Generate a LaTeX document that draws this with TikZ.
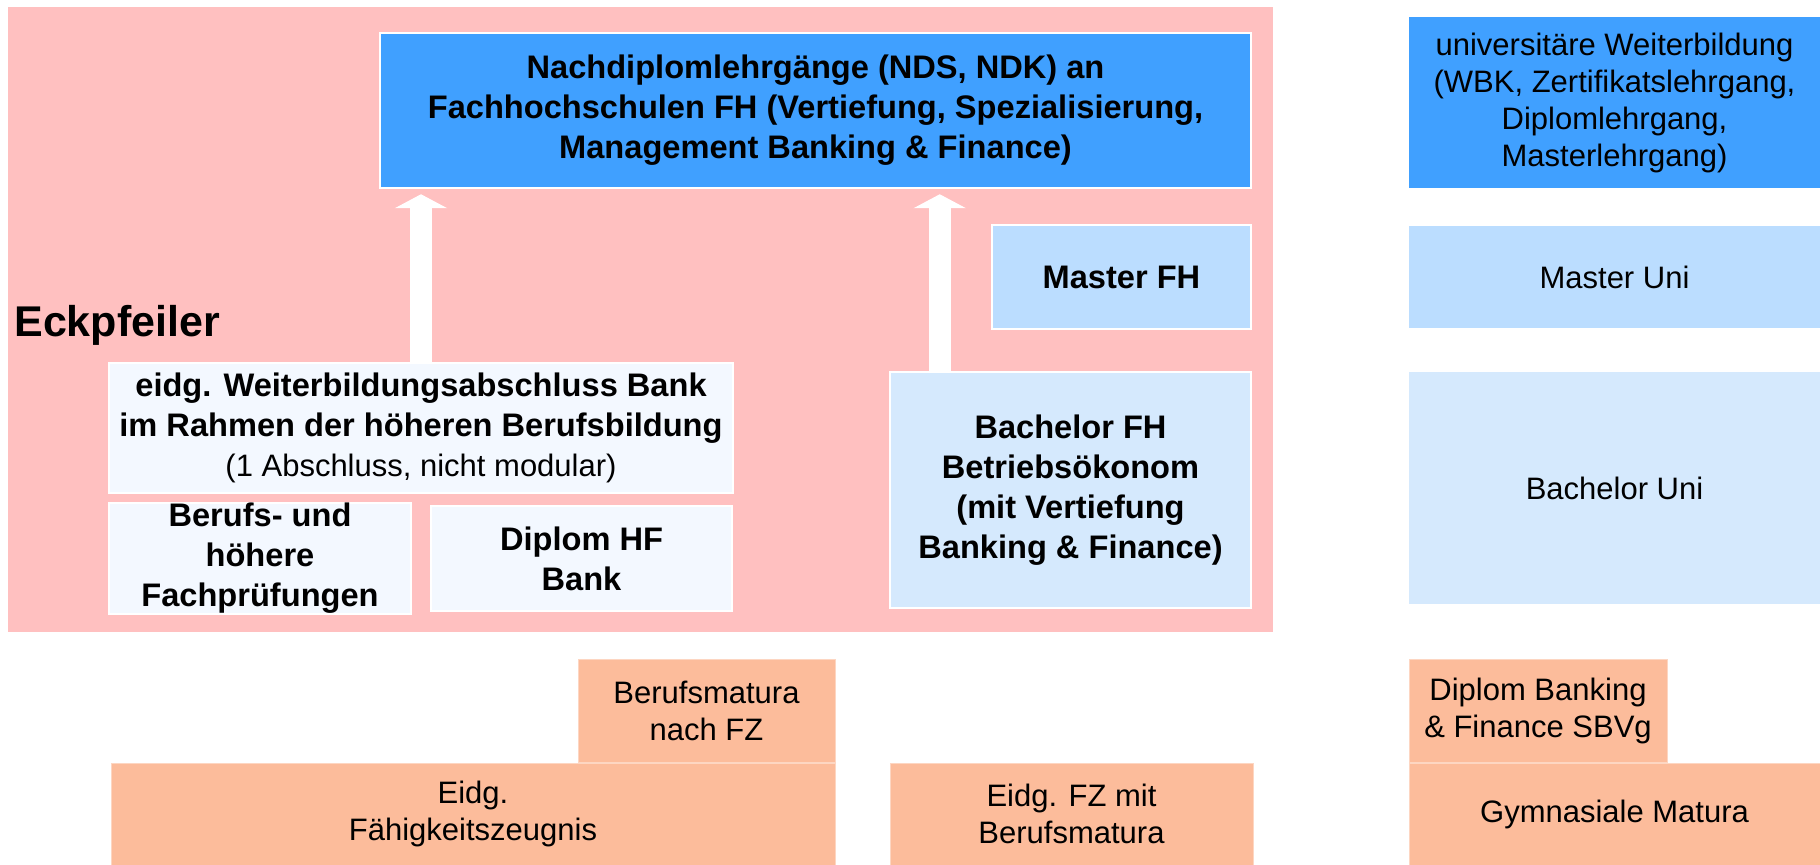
\documentclass[tikz,border=0pt]{standalone}
\usepackage{fontspec}
\setmainfont{Liberation Sans}
\usetikzlibrary{arrows.meta}
\definecolor{eckpink}{RGB}{255,192,192}
\definecolor{ndsblue}{RGB}{64,160,255}
\definecolor{masterblue}{RGB}{187,221,255}
\definecolor{bachblue}{RGB}{213,233,253}
\definecolor{paleblue}{RGB}{243,248,255}
\definecolor{maturaorange}{RGB}{252,188,155}
\definecolor{maturaline}{RGB}{253,214,194}
\begin{document}
\begin{tikzpicture}[x=0.5pt,y=-0.5pt,
		box/.style={rectangle,inner sep=0pt,align=center},
		inbox/.style={box,draw=white,line width=1.25pt,font=\fontsize{16.3}{20}\selectfont\bfseries},
		outbox/.style={box,font=\fontsize{15.5}{18.5}\selectfont},
		matbox/.style={outbox,fill=maturaorange,draw=maturaline,line width=0.5pt},
		uparrow/.style={draw=white,line width=11pt,shorten >=2.5pt,-{Triangle[width=26pt,length=7pt]}}]
			\useasboundingbox (0,0) rectangle (1820,865);
			\fill [eckpink] (8,7) rectangle (1273,632);
			\node [box,anchor=west,font=\fontsize{21.5}{26}\selectfont\bfseries] (eck) at (14,325) {Eckpfeiler};
			% Fachhochschule
			\node [inbox,fill=ndsblue,minimum width=435.5pt,minimum height=77.5pt] (nds) at (815.5,110.5) {Nachdiplomlehrgänge (NDS, NDK) an\\Fachhochschulen FH (Vertiefung, Spezialisierung,\\Management Banking \& Finance)};
			\node [inbox,fill=masterblue,minimum width=129.5pt,minimum height=52pt] (masterfh) at (1121.5,277) {Master FH};
			\node [inbox,fill=bachblue,minimum width=180.5pt,minimum height=118pt] (bachfh) at (1070.5,490) {Bachelor FH\\Betriebsökonom\\(mit Vertiefung\\Banking \& Finance)};
			% hoehere Berufsbildung
			\node [inbox,fill=paleblue,minimum width=312pt,minimum height=65pt] (eidgwb) at (421,428) {eidg. Weiterbildungsabschluss Bank\\im Rahmen der höheren Berufsbildung\\{\mdseries\fontsize{15.5}{18.5}\selectfont(1 Abschluss, nicht modular)}};
			\node [inbox,fill=paleblue,minimum width=151pt,minimum height=52.5pt] (berufs) at (260,558.5) {Berufs- und\\höhere\\Fachprüfungen};
			\node [inbox,fill=paleblue,minimum width=150.5pt,minimum height=52.5pt] (diplomhf) at (581.5,558.5) {Diplom HF\\Bank};
			\coordinate (bachup) at ([xshift=25.5pt]bachfh.north west);
			\draw [uparrow] (eidgwb.north) -- (eidgwb.north |- nds.south);
			\draw [uparrow] (bachup) -- (bachup |- nds.south);
			% Universitaet
			\node [outbox,fill=ndsblue,minimum width=205.5pt,minimum height=85.5pt] (univwb) at (1614.5,102.5) {universitäre Weiterbildung\\(WBK, Zertifikatslehrgang,\\Diplomlehrgang,\\Masterlehrgang)};
			\node [outbox,fill=masterblue,minimum width=205.5pt,minimum height=51pt] (masteruni) at (1614.5,277) {Master Uni};
			\node [outbox,fill=bachblue,minimum width=205.5pt,minimum height=116pt] (bachuni) at (1614.5,488) {Bachelor Uni};
			% Grundbildung
			\node [matbox,minimum width=128.5pt,minimum height=51.5pt] (bmfz) at (706.5,710.5) {Berufsmatura\\nach FZ};
			\node [matbox,minimum width=362pt,minimum height=51pt] (eidgfz) at (473,814) {Eidg.\\Fähigkeitszeugnis};
			\node [matbox,minimum width=181.5pt,minimum height=51pt] (eidgfzbm) at (1071.5,814) {Eidg. FZ mit\\Berufsmatura};
			\node [matbox,minimum width=129pt,minimum height=51.5pt] (diplombank) at (1538,710.5) {Diplom Banking\\\& Finance SBVg};
			\node [matbox,minimum width=205.5pt,minimum height=51pt] (gymn) at (1614.5,814) {Gymnasiale Matura};
		\end{tikzpicture}
\end{document}
